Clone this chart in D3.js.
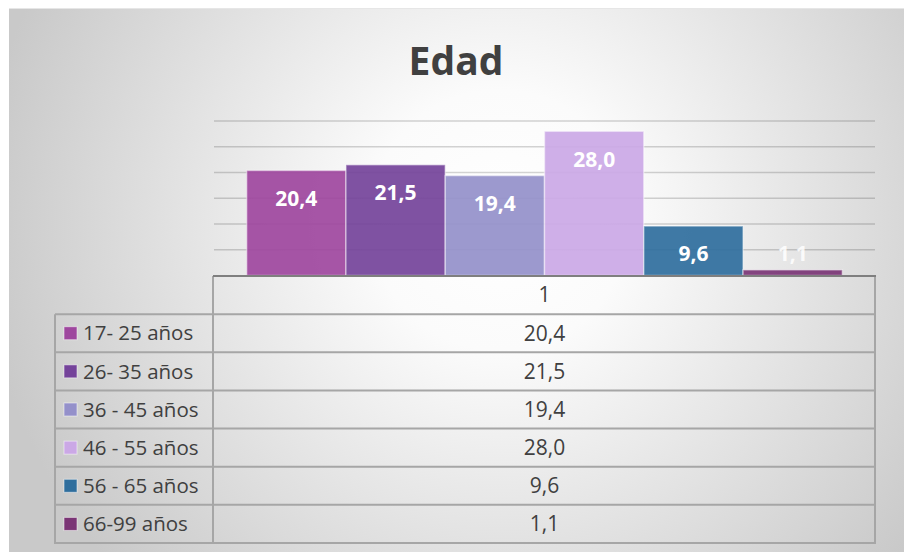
<!DOCTYPE html>
<html>
<head>
<meta charset="utf-8">
<script src="https://cdn.jsdelivr.net/npm/d3@7"></script>
<style>
  html, body { margin: 0; padding: 0; background: #fff; }
  svg { display: block; font-family: "Open Sans", "Noto Sans", sans-serif; }
</style>
</head>
<body>
<svg id="chart"></svg>
<script>
// data
const categories = ["1"]
const series = ["17- 25 años", "26- 35 años", "36 - 45 años", "46 - 55 años", "56 - 65 años", "66-99 años"]
const values = [20.4, 21.5, 19.4, 28.0, 9.6, 1.1]
const yTicks = [0, 5, 10, 15, 20, 25, 30]
const title = "Edad"

const palette = ["#9e479e", "#74439a", "#9490ca", "#cba8e6", "#2f6e9d", "#7a3575"]

const width = 904, height = 552
const box = { left: 9, top: 8 }
const plot = { left: 214, right: 875, top: 121, bottom: 275.5 }
const table = { legendLeft: 55, top: 276, bottom: 543 }

const locale = d3.formatLocale({ decimal: ",", thousands: ".", grouping: [3], currency: ["", ""] })
const fmt = locale.format(".1f")

const svg = d3.select("#chart")
  .attr("width", width)
  .attr("height", height)

// background gradient
const defs = svg.append("defs")
const grad = defs.append("radialGradient")
  .attr("id", "bg")
  .attr("gradientUnits", "userSpaceOnUse")
  .attr("cx", 500).attr("cy", 220).attr("r", 520)
grad.append("stop").attr("offset", "0%").attr("stop-color", "#ffffff")
grad.append("stop").attr("offset", "25%").attr("stop-color", "#fbfbfb")
grad.append("stop").attr("offset", "100%").attr("stop-color", "#c9c9c9")

svg.append("rect")
  .attr("x", box.left).attr("y", box.top)
  .attr("width", width - box.left).attr("height", height - box.top)
  .attr("fill", "url(#bg)")
svg.append("line")
  .attr("x1", box.left).attr("x2", width)
  .attr("y1", box.top + 0.5).attr("y2", box.top + 0.5)
  .attr("stroke", "#e6e6e6")

// title
svg.append("text")
  .attr("x", 456).attr("y", 75)
  .attr("text-anchor", "middle")
  .attr("font-size", 39)
  .attr("font-weight", "bold")
  .attr("fill", "#404040")
  .text(title)

// scales
const x0 = d3.scaleBand()
  .domain(categories)
  .range([plot.left, plot.right])
  .padding(0.052)

const x1 = d3.scaleBand()
  .domain(series)
  .range([0, x0.bandwidth()])

const y = d3.scaleLinear()
  .domain([0, 30])
  .range([plot.bottom, plot.top])

// gridlines
svg.append("g")
  .selectAll("line")
  .data(yTicks.slice(1))
  .join("line")
  .attr("x1", plot.left).attr("x2", plot.right)
  .attr("y1", d => y(d)).attr("y2", d => y(d))
  .attr("stroke", "#000")
  .attr("stroke-opacity", 0.17)
  .attr("stroke-width", 1.5)

// bars
const bars = svg.append("g")
  .selectAll("g")
  .data(categories)
  .join("g")
  .attr("transform", d => `translate(${x0(d)},0)`)

bars.selectAll("rect")
  .data(series.map((s, i) => ({ s, v: values[i], c: palette[i] })))
  .join("rect")
  .attr("x", d => x1(d.s))
  .attr("y", d => y(d.v))
  .attr("width", x1.bandwidth())
  .attr("height", d => y(0) - y(d.v))
  .attr("fill", d => d.c)
  .attr("fill-opacity", 0.92)
  .attr("stroke", "#ffffff")
  .attr("stroke-opacity", 0.45)
  .attr("stroke-width", 1.5)

bars.selectAll("text")
  .data(series.map((s, i) => ({ s, v: values[i] })))
  .join("text")
  .attr("x", d => x1(d.s) + x1.bandwidth() / 2)
  .attr("y", d => Math.min(y(d.v) + 28, y(0) - 22))
  .attr("dy", "0.35em")
  .attr("text-anchor", "middle")
  .attr("font-size", 21)
  .attr("font-weight", "bold")
  .attr("fill", "#ffffff")
  .attr("fill-opacity", d => d.v < 3 ? 0.85 : 1)
  .text(d => fmt(d.v))

// data table
const rows = d3.scaleBand()
  .domain(["header"].concat(series))
  .range([table.top, table.bottom])

const tbl = svg.append("g")
const lineColor = "#a6a6a6"

// horizontal lines
tbl.selectAll("line.h")
  .data(series.concat(["end"]))
  .join("line")
  .attr("class", "h")
  .attr("x1", table.legendLeft).attr("x2", plot.right)
  .attr("y1", d => d === "end" ? table.bottom : rows(d))
  .attr("y2", d => d === "end" ? table.bottom : rows(d))
  .attr("stroke", lineColor)
  .attr("stroke-width", 2)

// verticals
tbl.append("line")
  .attr("x1", plot.left - 1).attr("x2", plot.left - 1)
  .attr("y1", table.top).attr("y2", table.bottom)
  .attr("stroke", lineColor).attr("stroke-width", 2)
tbl.append("line")
  .attr("x1", plot.right).attr("x2", plot.right)
  .attr("y1", table.top).attr("y2", table.bottom + 1)
  .attr("stroke", lineColor).attr("stroke-width", 2)
tbl.append("line")
  .attr("x1", table.legendLeft).attr("x2", table.legendLeft)
  .attr("y1", rows(series[0])).attr("y2", table.bottom + 1)
  .attr("stroke", lineColor).attr("stroke-width", 2)

// axis baseline
svg.append("line")
  .attr("x1", plot.left - 1).attr("x2", plot.right + 1)
  .attr("y1", table.top).attr("y2", table.top)
  .attr("stroke", lineColor).attr("stroke-width", 2)
svg.append("line")
  .attr("x1", plot.left - 1).attr("x2", plot.right + 1)
  .attr("y1", plot.bottom + 0.5).attr("y2", plot.bottom + 0.5)
  .attr("stroke", "#595959").attr("stroke-width", 1)

// header text
tbl.append("text")
  .attr("x", x0(categories[0]) + x0.bandwidth() / 2)
  .attr("y", rows("header") + rows.bandwidth() / 2)
  .attr("dy", "0.35em")
  .attr("text-anchor", "middle")
  .attr("font-size", 21)
  .attr("fill", "#404040")
  .text(categories[0])

// value cells
tbl.selectAll("text.val")
  .data(series.map((s, i) => ({ s, v: values[i] })))
  .join("text")
  .attr("class", "val")
  .attr("x", x0(categories[0]) + x0.bandwidth() / 2)
  .attr("y", d => rows(d.s) + rows.bandwidth() / 2)
  .attr("dy", "0.35em")
  .attr("text-anchor", "middle")
  .attr("font-size", 21)
  .attr("fill", "#404040")
  .text(d => fmt(d.v))

// legend cells
const leg = tbl.selectAll("g.leg")
  .data(series.map((s, i) => ({ s, c: palette[i] })))
  .join("g")
  .attr("class", "leg")
  .attr("transform", d => `translate(${table.legendLeft}, ${rows(d.s) + rows.bandwidth() / 2})`)

leg.append("rect")
  .attr("x", 9).attr("y", -6.5)
  .attr("width", 13).attr("height", 13)
  .attr("fill", d => d.c)
  .attr("stroke", "#ffffff")
  .attr("stroke-opacity", 0.5)

leg.append("text")
  .attr("x", 28)
  .attr("dy", "0.35em")
  .attr("font-size", 20.5)
  .attr("fill", "#404040")
  .text(d => d.s)
</script>
</body>
</html>
